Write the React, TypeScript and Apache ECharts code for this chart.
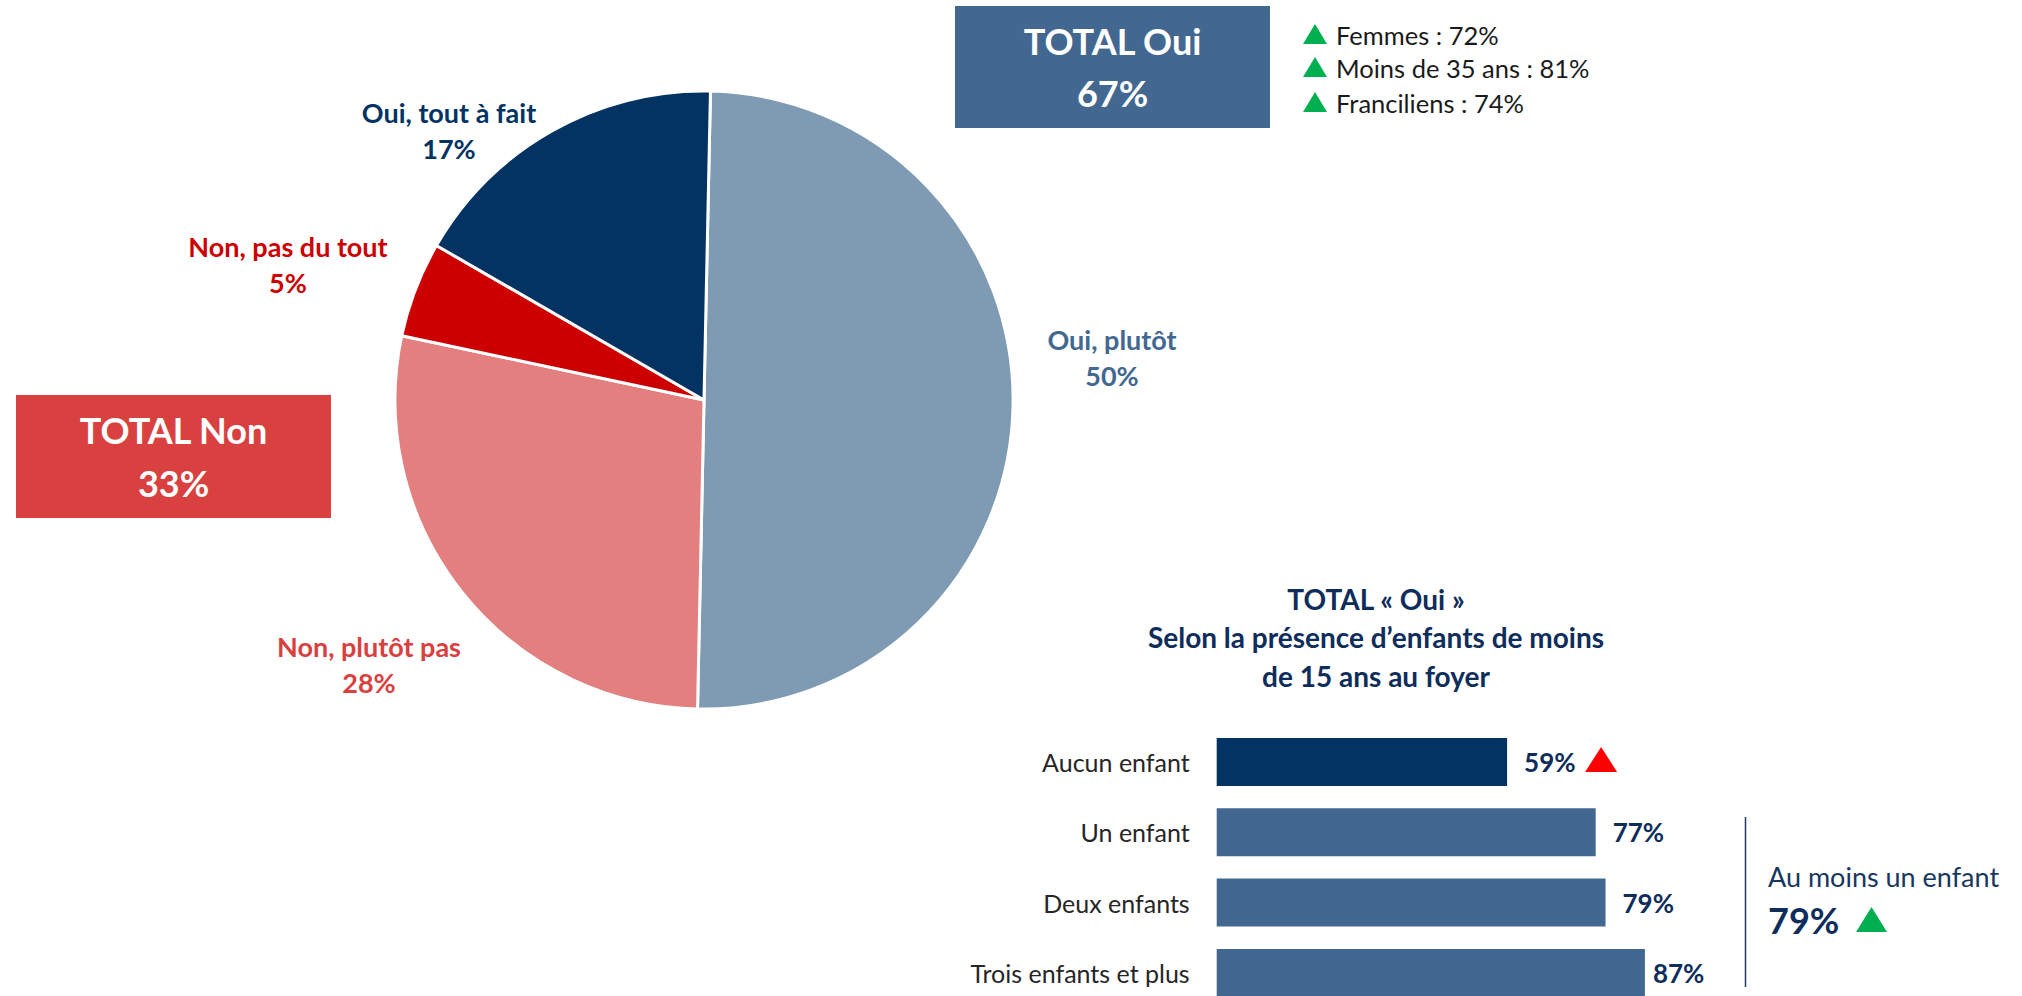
import React, { useEffect, useRef } from "react";
import * as echarts from "echarts";

// ---- Data ----
const PIE_NAMES = ["Oui, plutôt", "Non, plutôt pas", "Non, pas du tout", "Oui, tout à fait"];
const PIE_VALUES = [50, 28, 5, 17];

const TOTAL_LABELS = ["TOTAL Oui", "TOTAL Non"];
const TOTAL_VALUES = [67, 33];

const SUBGROUP_LABELS = ["Femmes", "Moins de 35 ans", "Franciliens"];
const SUBGROUP_VALUES = [72, 81, 74];

const BAR_TITLE = ["TOTAL « Oui »", "Selon la présence d’enfants de moins", "de 15 ans au foyer"];
const BAR_CATEGORIES = ["Aucun enfant", "Un enfant", "Deux enfants", "Trois enfants et plus"];
const BAR_VALUES = [59, 77, 79, 87];

const AT_LEAST_ONE_LABEL = "Au moins un enfant";
const AT_LEAST_ONE_VALUE = 79;

// ---- Styles / layout ----
const FONT = "Lato, 'Noto Sans', sans-serif";
const NAVY = "#0E2D5B";
const SLICE_COLORS = ["#7F9AB3", "#E37F7E", "#CC0000", "#033362"];
const LABEL_COLORS = ["#426891", "#D94040", "#CC0000", "#033362"];
const PIE_LABEL_POS = [
  [1112, 357],
  [369, 664],
  [288, 264],
  [449, 130],
];

export default function App() {
  const ref = useRef<HTMLDivElement>(null);

  useEffect(() => {
    if (!ref.current) return;
    const chart = echarts.init(ref.current, null, { renderer: "svg" });

    const rich: any = {};
    LABEL_COLORS.forEach((c, i) => {
      rich["s" + i] = {
        color: c,
        fontWeight: "bold",
        fontSize: 27,
        fontFamily: FONT,
        lineHeight: 36,
        align: "center",
      };
    });

    const tri = (id: string, x0: number, y0: number, w: number, h: number, fill: string) => ({
      type: "polygon",
      id,
      silent: true,
      shape: { points: [[x0, y0 + h], [x0 + w / 2, y0], [x0 + w, y0 + h]] },
      style: { fill },
    });

    const graphics: any[] = [
      {
        type: "rect",
        id: "boxOui",
        shape: { x: 955, y: 6, width: 315, height: 122 },
        style: { fill: "#426891" },
      },
      {
        type: "text",
        id: "boxOuiT",
        x: 1112.5,
        y: 67,
        style: {
          text: `${TOTAL_LABELS[0]}\n${TOTAL_VALUES[0]}%`,
          fill: "#fff",
          fontFamily: FONT,
          fontWeight: "bold",
          fontSize: 36,
          lineHeight: 52,
          align: "center",
          verticalAlign: "middle",
        },
      },
      {
        type: "rect",
        id: "boxNon",
        shape: { x: 16, y: 395, width: 315, height: 123 },
        style: { fill: "#D94040" },
      },
      {
        type: "text",
        id: "boxNonT",
        x: 173.5,
        y: 456.5,
        style: {
          text: `${TOTAL_LABELS[1]}\n${TOTAL_VALUES[1]}%`,
          fill: "#fff",
          fontFamily: FONT,
          fontWeight: "bold",
          fontSize: 36,
          lineHeight: 53,
          align: "center",
          verticalAlign: "middle",
        },
      },
      {
        type: "text",
        id: "barTitle",
        x: 1376,
        y: 637,
        style: {
          text: BAR_TITLE.join("\n"),
          fill: NAVY,
          fontFamily: FONT,
          fontWeight: "bold",
          fontSize: 28,
          lineHeight: 38.5,
          align: "center",
          verticalAlign: "middle",
        },
      },
      {
        type: "line",
        id: "vline",
        shape: { x1: 1745.5, y1: 817, x2: 1745.5, y2: 987 },
        style: { stroke: "#1F3864", lineWidth: 1.5 },
      },
      {
        type: "text",
        id: "alo",
        x: 1768,
        y: 876,
        style: {
          text: AT_LEAST_ONE_LABEL,
          fill: "#17375E",
          fontFamily: FONT,
          fontSize: 27,
          align: "left",
          verticalAlign: "middle",
        },
      },
      {
        type: "text",
        id: "aloV",
        x: 1768,
        y: 920,
        style: {
          text: `${AT_LEAST_ONE_VALUE}%`,
          fill: NAVY,
          fontFamily: FONT,
          fontWeight: "bold",
          fontSize: 36,
          align: "left",
          verticalAlign: "middle",
        },
      },
      tri("aloTri", 1856, 907, 31, 25, "#00B050"),
    ];

    const rowY = [34, 67, 102];
    SUBGROUP_LABELS.forEach((lab, i) => {
      graphics.push(tri("sgTri" + i, 1303, rowY[i] - 10, 24, 20, "#00B050"));
      graphics.push({
        type: "text",
        id: "sgT" + i,
        x: 1336,
        y: rowY[i] + 1,
        style: {
          text: `${lab} : ${SUBGROUP_VALUES[i]}%`,
          fill: "#1A1A1A",
          fontFamily: FONT,
          fontSize: 25.5,
          align: "left",
          verticalAlign: "middle",
        },
      });
    });

    chart.setOption({
      animation: false,
      backgroundColor: "#ffffff",
      textStyle: { fontFamily: FONT },
      grid: {
        left: 1216.7,
        top: 726.8,
        width: 492.2,
        height: 281.3,
        containLabel: false,
        outerBoundsMode: "none",
      },
      xAxis: { type: "value", min: 0, max: 100, show: false },
      yAxis: {
        type: "category",
        inverse: true,
        data: BAR_CATEGORIES,
        axisLine: { show: false },
        axisTick: { show: false },
        splitLine: { show: false },
        axisLabel: { margin: 27, fontSize: 25, fontFamily: FONT, color: "#262626" },
      },
      series: [
        {
          type: "pie",
          center: [704, 400],
          radius: 309,
          startAngle: 88.8,
          clockwise: true,
          silent: true,
          data: PIE_NAMES.map((n, i) => ({ name: n, value: PIE_VALUES[i] })),
          itemStyle: {
            color: (p: any) => SLICE_COLORS[p.dataIndex],
            borderColor: "#ffffff",
            borderWidth: 3,
          },
          label: {
            show: true,
            position: "outside",
            formatter: (p: any) => `{s${p.dataIndex}|${p.name}}\n{s${p.dataIndex}|${p.value}%}`,
            rich,
          },
          labelLine: { show: false },
          labelLayout: (params: any) => {
            const pos = PIE_LABEL_POS[params.dataIndex];
            return { x: pos[0], y: pos[1], align: "center", verticalAlign: "middle" };
          },
        },
        {
          type: "bar",
          silent: true,
          data: BAR_VALUES,
          barWidth: 48,
          itemStyle: {
            color: (p: any) => (p.dataIndex === 0 ? "#033362" : "#426891"),
          },
          label: {
            show: true,
            position: "right",
            distance: 17,
            formatter: "{c}%",
            color: NAVY,
            fontWeight: "bold",
            fontSize: 26,
            fontFamily: FONT,
          },
          labelLayout: (params: any) =>
            params.dataIndex === BAR_VALUES.length - 1 ? { dx: -9 } : {},
        },
      ],
      graphic: { elements: graphics },
    });

    // red "significantly lower" triangle next to the first bar, positioned via the axis scales
    const px = chart.convertToPixel({ xAxisIndex: 0 } as any, BAR_VALUES[0]) as number;
    const py = chart.convertToPixel({ yAxisIndex: 0 } as any, BAR_CATEGORIES[0]) as number;
    chart.setOption({
      graphic: {
        elements: [...graphics, tri("redTri", px + 78, py - 15, 32, 25, "#FF0000")],
      },
    });

    return () => chart.dispose();
  }, []);

  return (
    <div
      ref={ref}
      style={{ position: "fixed", left: 0, top: 0, width: 2022, height: 996, background: "#fff" }}
    />
  );
}
